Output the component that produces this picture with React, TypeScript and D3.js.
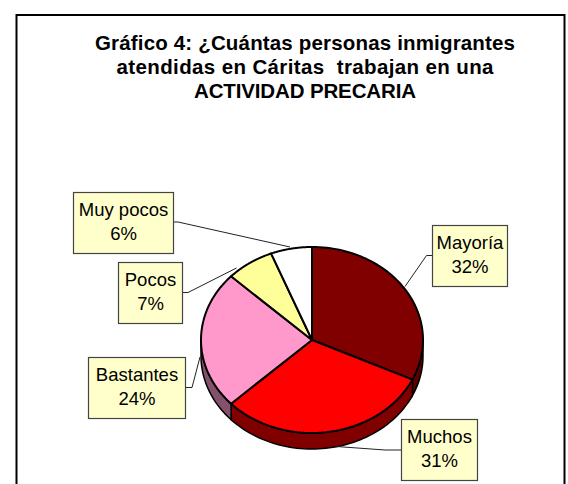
import React from "react";
import * as d3 from "d3";

const categories = ["Mayoría", "Muchos", "Bastantes", "Pocos", "Muy pocos"];
const values = [32, 31, 24, 7, 6];
const percentLabels = ["32%", "31%", "24%", "7%", "6%"];
const topColors = ["#800000", "#ff0000", "#ff99cc", "#ffff99", "#ffffff"];
const sideColors = ["#5c0000", "#800000", "#85506b", "#808050", "#808080"];
const titleLines = [
  "Gráfico 4: ¿Cuántas personas inmigrantes",
  "atendidas en Cáritas  trabajan en una",
  "ACTIVIDAD PRECARIA",
];
const titleWidths = [420, 377, 222];
// label box [x, y, w, h] and leader polyline, in page pixels
const boxes = [
  [432, 225, 75, 61],
  [401, 419, 76, 61],
  [88, 357, 97, 61],
  [118, 262, 64, 61],
  [73, 192, 100, 61],
];
const leaders = [
  [[432, 255.5], [426.5, 255.5], [405, 286.5]],
  [[401, 450], [385, 450], [336.5, 446.5]],
  [[185, 387.5], [192, 387.5], [200, 357]],
  [[182, 292.5], [188, 292.5], [236.5, 268]],
  [[173, 222], [178, 222], [290, 247]],
];

const cx = 312;
const cy = 340;
const rx = 111;
const ry = 93;
const depth = 16;

const pieGen = d3.pie<number>().sort(null).value((d) => d);
const arcs = pieGen(values);

const px = (a: number) => cx + rx * Math.sin(a);
const py = (a: number) => cy - ry * Math.cos(a);

const line = d3.line<[number, number]>().curve(d3.curveLinear);

function topPath(start: number, end: number) {
  const pts: [number, number][] = [[cx, cy]];
  d3.range(0, 61).forEach((i) => {
    const a = start + ((end - start) * i) / 60;
    pts.push([px(a), py(a)]);
  });
  return line(pts) + "Z";
}

function sidePath(start: number, end: number) {
  const s = Math.max(start, Math.PI / 2);
  const e = Math.min(end, (3 * Math.PI) / 2);
  if (e <= s) return null;
  const upper: [number, number][] = [];
  const lower: [number, number][] = [];
  d3.range(0, 61).forEach((i) => {
    const a = s + ((e - s) * i) / 60;
    upper.push([px(a), py(a)]);
    lower.unshift([px(a), py(a) + depth]);
  });
  return line([...upper, ...lower]) + "Z";
}

export default function App() {
  return (
    <svg
      width={568}
      height={484}
      style={{ position: "absolute", left: 0, top: 0, fontFamily: "'Liberation Sans', Arial, sans-serif" }}
    >
      <rect x={0} y={0} width={568} height={484} fill="#ffffff" />
      <rect x={16.5} y={15} width={548} height={480} fill="#ffffff" stroke="#000" strokeWidth={2} />
      {titleLines.map((t, i) => (
        <text
          key={i}
          x={305}
          y={50 + i * 24}
          textAnchor="middle"
          fontSize={20.5}
          fontWeight="bold"
          fill="#000"
          textLength={titleWidths[i]}
          lengthAdjust="spacing"
          style={{ whiteSpace: "pre" }}
        >
          {t}
        </text>
      ))}
      {arcs.map((a, i) => {
        const d = sidePath(a.startAngle, a.endAngle);
        return d ? <path key={i} d={d} fill={sideColors[i]} stroke="#000" strokeWidth={1.5} /> : null;
      })}
      {arcs.map((a, i) => (
        <path key={i} d={topPath(a.startAngle, a.endAngle)} fill={topColors[i]} stroke="#000" strokeWidth={2} strokeLinejoin="round" />
      ))}
      {leaders.map((l, i) => (
        <path key={i} d={line(l as [number, number][]) ?? ""} fill="none" stroke="#222" strokeWidth={1} />
      ))}
      {boxes.map((b, i) => (
        <g key={i}>
          <rect x={b[0] + 0.5} y={b[1] + 0.5} width={b[2]} height={b[3]} fill="#ffffcc" stroke="#444" strokeWidth={1.2} />
          <text x={b[0] + b[2] / 2 + 0.5} y={b[1] + 23.5} textAnchor="middle" fontSize={18.5} fill="#000">
            {categories[i]}
          </text>
          <text x={b[0] + b[2] / 2 + 0.5} y={b[1] + 47.5} textAnchor="middle" fontSize={18.5} fill="#000">
            {percentLabels[i]}
          </text>
        </g>
      ))}
    </svg>
  );
}
